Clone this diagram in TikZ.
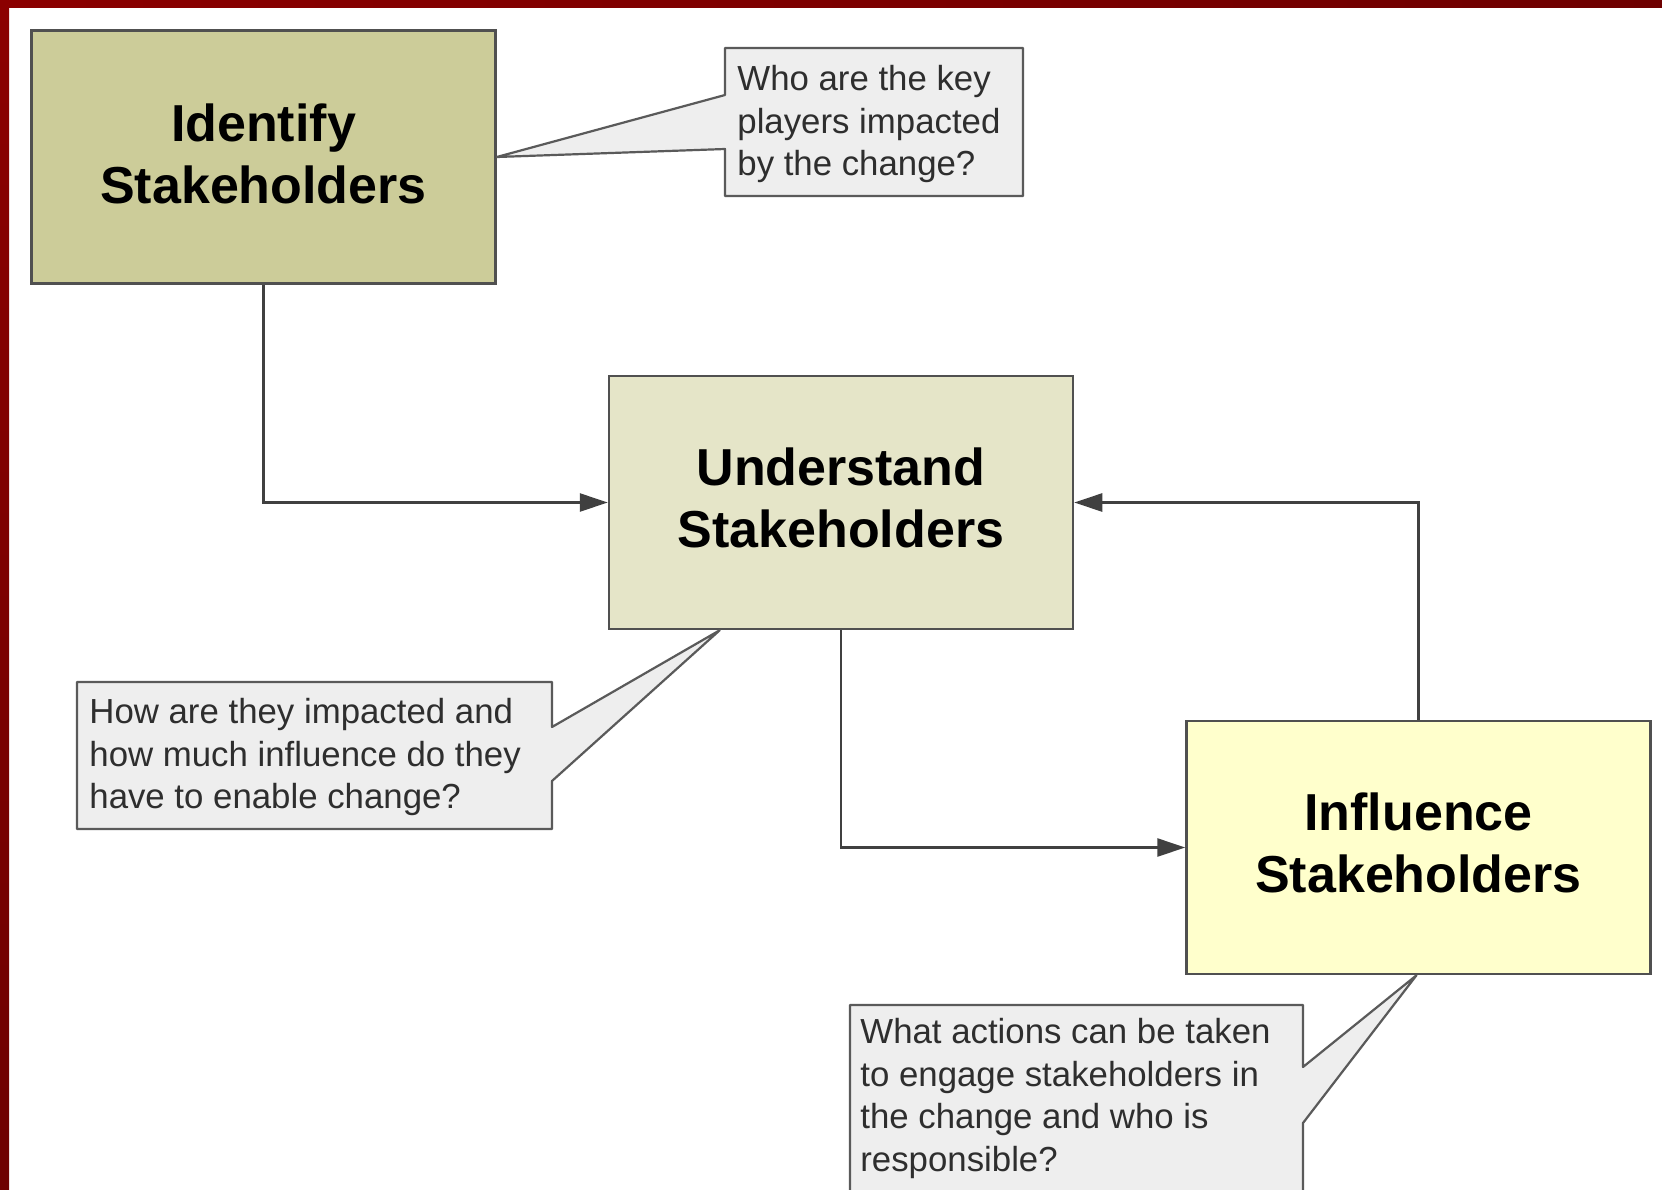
\documentclass[tikz,border=0pt]{standalone}
\usepackage{fontspec}
\setmainfont{Liberation Sans}
\usetikzlibrary{arrows.meta,calc}
\definecolor{frameA}{HTML}{8B0000}
\definecolor{frameB}{HTML}{6E0000}
\definecolor{boxline}{HTML}{505050}
\definecolor{calline}{HTML}{5A5A5A}
\definecolor{calfill}{HTML}{EEEEEE}
\definecolor{idfill}{HTML}{CCCC99}
\definecolor{unfill}{HTML}{E5E5C8}
\definecolor{inffill}{HTML}{FFFFCC}
\definecolor{caltext}{HTML}{2E2E2E}
\definecolor{arrowcol}{HTML}{404040}
\begin{document}
\begin{tikzpicture}[x=0.5pt,y=-0.5pt,
  stepbox/.style={draw=boxline,line width=1.25pt,rectangle,
    minimum width=232pt,minimum height=126.5pt},
  boxtext/.style={inner sep=0pt,align=center,
    font=\bfseries\fontsize{26}{31}\selectfont},
  flow/.style={draw=arrowcol,line width=1.3pt,
    -{Triangle[length=14pt,width=9pt]}},
  calshape/.style={draw=calline,fill=calfill,line width=1.1pt,line join=round},
  caltxt/.style={anchor=west,inner sep=0pt,align=left,text=caltext,
    font=\fontsize{17.4}{21.2}\selectfont}]
\useasboundingbox (0,0) rectangle (1662,1190);
\clip (0,0) rectangle (1662,1190);
\fill[white] (0,0) rectangle (1662,1190);
% frame
\shade[left color=frameA,right color=frameB] (0,0) rectangle (1662,7);
\shade[top color=frameA,bottom color=frameB] (0,0) rectangle (9,1190);

% main boxes
\node[stepbox,fill=idfill] (identify) at (263.5,157) {};
\node[boxtext] (identifyT) at ([yshift=1.4pt]identify.center) {Identify\\Stakeholders};
\node[stepbox,fill=unfill] (understand) at (841,502.5) {};
\node[boxtext] (understandT) at ([yshift=2.5pt]understand.center) {Understand\\Stakeholders};
\node[stepbox,fill=inffill] (influence) at (1418.5,847.5) {};
\node[boxtext] (influenceT) at ([yshift=2.3pt]influence.center) {Influence\\Stakeholders};

% connectors
\draw[flow] (identify.south) |- (understand.west);
\draw[flow] (understand.south) |- (influence.west);
\draw[flow] (influence.north) |- (understand.east);

% callout 1
\coordinate (tip1) at (identify.east);
\draw[calshape] (725,48) -- (1023,48) -- (1023,196) -- (725,196) -- (725,149)
  -- (tip1) -- (725,95) -- cycle;
\node[caltxt] (c1) at (737,124) {Who are the key\\players impacted\\by the change?};

% callout 2
\coordinate (tip2) at ($(understand.south west)!0.24!(understand.south east)$);
\draw[calshape] (77,682) -- (552,682) -- (552,727) -- (tip2) -- (552,781)
  -- (552,829) -- (77,829) -- cycle;
\node[caltxt] (c2) at (89,757) {How are they impacted and\\how much influence do they\\have to enable change?};

% callout 3
\coordinate (tip3) at ([xshift=-1pt]influence.south);
\draw[calshape] (850,1005) -- (1303,1005) -- (1303,1067) -- (tip3) -- (1303,1123)
  -- (1303,1215) -- (850,1215) -- cycle;
\node[caltxt] (c3) at (860,1098.5) {What actions can be taken\\to engage stakeholders in\\the change and who is\\responsible?};
\end{tikzpicture}
\end{document}
